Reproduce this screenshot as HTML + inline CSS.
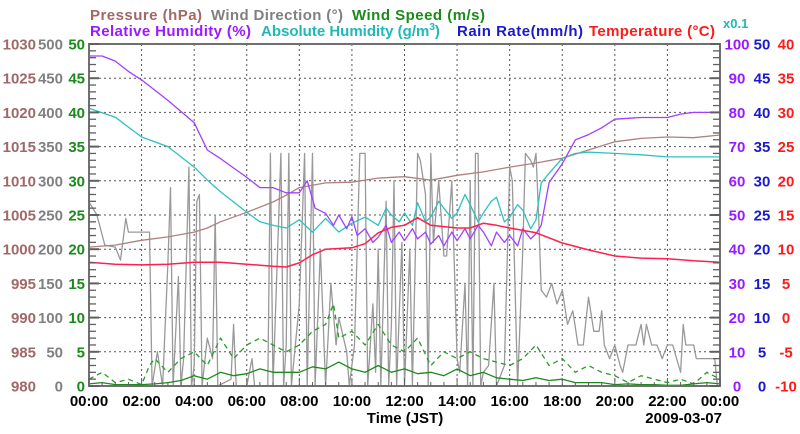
<!DOCTYPE html>
<html><head><meta charset="utf-8"><style>
html,body{margin:0;padding:0;background:#fff;}
svg{display:block;font-family:"Liberation Sans",Arial,sans-serif;font-weight:bold;}
</style></head><body>
<svg id="chart" width="800" height="434" viewBox="0 0 800 434" xmlns="http://www.w3.org/2000/svg">
<g font-size="15">
<text x="90" y="20" fill="#a06868" textLength="112">Pressure (hPa)</text>
<text x="211" y="20" fill="#808080" textLength="132">Wind Direction (°)</text>
<text x="352" y="20" fill="#1a8a1a" textLength="133">Wind Speed (m/s)</text>
<text x="90" y="36" fill="#9a1aff" textLength="161">Relative Humidity (%)</text>
<text x="261" y="36" fill="#20b8b8">Absolute Humidity (g/m<tspan dy="-6" font-size="10">3</tspan><tspan dy="6">)</tspan></text>
<text x="457" y="36" fill="#1a1acc" textLength="126">Rain Rate(mm/h)</text>
<text x="589" y="36" fill="#ff1a1a" textLength="126">Temperature (°C)</text>
<text x="723" y="28" fill="#20b8b8" font-size="13">x0.1</text>
</g>
<g id="grid"></g>
<g id="series"></g>
<g id="axes"></g>
<text x="405" y="423" text-anchor="middle" font-size="15" fill="#000">Time (JST)</text>
<text x="722" y="423" text-anchor="end" font-size="15" fill="#000">2009-03-07</text>
</svg>
<script>
const NS='http://www.w3.org/2000/svg';
// ---- data ----
const hourTicks=[0,2,4,6,8,10,12,14,16,18,20,22,24];
const hourLabels=['00:00','02:00','04:00','06:00','08:00','10:00','12:00','14:00','16:00','18:00','20:00','22:00','00:00'];
const pressureTicks=[980,985,990,995,1000,1005,1010,1015,1020,1025,1030];
const windDirTicks=[0,50,100,150,200,250,300,350,400,450,500];
const windSpeedTicks=[0,5,10,15,20,25,30,35,40,45,50];
const rhTicks=[0,10,20,30,40,50,60,70,80,90,100];
const rainTicks=[0,5,10,15,20,25,30,35,40,45,50];
const tempTicks=[-10,-5,0,5,10,15,20,25,30,35,40];

const pressureT=[0,1,2,3,4,4.5,5,6,7,7.5,8,9,10,11,12,13,14,15,16,17,18,19,20,21,22,23,24];
const pressureV=[1000.3,1000.6,1001.3,1001.8,1002.5,1003.1,1004,1005.4,1006.9,1007.9,1009,1009.7,1009.8,1010.4,1010.6,1010.1,1010.8,1011.3,1012,1012.6,1013.3,1014.5,1015.7,1016.2,1016.4,1016.3,1016.7];

const rhT=[0,0.5,1,1.5,2,3,4,4.5,5,6,6.5,7,7.5,8,8.3,8.6,9,9.3,9.5,9.8,10,10.2,10.5,10.8,11,11.3,11.5,11.8,12,12.3,12.5,12.8,13,13.3,13.5,13.8,14,14.3,14.5,14.8,15,15.3,15.5,15.8,16,16.3,16.5,16.8,17,17.2,17.5,18,18.5,19,19.5,20,21,22,22.5,23,24];
const rhV=[96.5,96.5,95,92,89.5,83.5,77,69,66.5,61,58,58,56.5,56.5,60,52,50.5,47,50,46,49.5,44,46,42,43.5,47,42,45,42.5,46,43,45,41.5,44,41,45,42.5,46,43,47,45,41,45,42,44,41,46,43,44.5,47,59.5,65,72,73.5,75.5,78,78.5,78.5,79.5,80,80];

const absT=[0,1,2,3,4,4.5,5,6,6.5,7,7.5,8,8.5,9,9.5,10,10.5,11,11.3,11.5,11.8,12,12.3,12.5,12.8,13,13.3,13.5,13.8,14,14.3,14.5,14.8,15,15.3,15.5,15.8,16,16.3,16.5,16.8,17,17.2,17.5,18,18.5,19,20,21,22,23,24];
const absV=[40.6,39.3,36.4,35,32,30.1,28.4,25.4,24,23.5,23.1,24.3,22.5,24.5,22.5,23.8,24.7,23.5,26,25,24,25.3,23.5,26.8,24,24.7,27,26,24.5,25.3,28,26.5,24,25.3,27,27.6,24,24.7,26.5,25.7,23,24.3,29.7,31.1,33.3,34,34.2,34,33.8,33.5,33.5,33.5];

const tempT=[0,1,2,3,4,5,6,7,7.5,8,8.5,9,10,10.5,11,11.5,12,12.5,13,14,14.5,15,15.5,16,17,18,19,20,21,22,23,24];
const tempV=[8.1,7.8,7.7,7.8,8.1,8.1,7.8,7.5,7.4,8,9.2,10,10.2,10.8,12.4,13.2,13.5,14.6,13.5,13.1,13.1,13.8,13.5,13.1,12.4,10.9,9.9,9,8.7,8.6,8.3,8.1];

const windDirT=[0,0.3,0.6,1,1.2,1.4,1.5,2,2.3,2.4,2.6,2.8,3,3.1,3.2,3.4,3.5,3.6,3.8,3.9,4,4.1,4.2,4.3,4.5,4.7,4.8,4.9,5.4,5.5,5.6,6,6.2,6.3,6.8,6.9,7,7.3,7.4,7.5,7.6,7.7,8,8.2,8.3,8.5,8.6,8.8,9,9.2,9.4,9.5,9.8,9.9,10.1,10.3,10.5,10.6,10.8,10.9,11,11.1,11.3,11.4,11.5,11.6,11.7,11.9,12,12.2,12.3,12.5,12.6,12.8,12.9,13,13.1,13.3,13.5,13.6,13.8,14,14.1,14.3,14.4,14.5,14.6,14.7,14.8,14.9,15,15.2,15.4,15.5,15.8,16,16.1,16.3,16.5,16.6,16.8,16.9,17,17.1,17.2,17.4,17.6,17.8,18,18.2,18.4,18.6,18.8,19,19.2,19.4,19.5,19.6,19.8,20,20.2,20.3,20.5,20.8,21,21.1,21.2,21.4,21.6,21.8,22,22.2,22.5,22.6,22.7,23,23.1,23.8,23.9,24];
const windDirV=[269,250,206,203,184,245,225,225,225,0,50,0,180,290,0,160,0,40,320,0,30,270,280,0,70,40,250,0,10,90,0,0,40,0,0,340,0,340,0,60,340,0,120,340,0,340,0,200,0,150,60,100,50,0,60,340,340,0,120,20,200,0,270,0,90,300,0,210,0,200,0,340,330,280,0,340,210,300,190,190,300,40,20,150,0,300,0,340,340,0,20,30,150,0,30,320,300,0,200,340,330,320,340,250,140,130,150,120,140,90,110,60,60,130,80,80,110,60,40,60,30,20,60,60,90,60,90,60,60,40,60,60,20,90,60,60,40,40,0,0];

const windT=[0,0.5,1,1.5,2,2.5,3,3.5,4,4.5,5,5.5,6,6.5,7,7.5,8,8.5,9,9.5,10,10.5,11,11.5,12,12.5,13,13.5,14,14.5,15,15.5,16,16.5,17,17.5,18,18.5,19,19.5,20,20.5,21,21.5,22,22.5,23,23.5,24];
const windMeanV=[0.3,0.5,0.2,0.2,0.2,0.3,0.5,0.8,1.5,1,2,1.5,1.8,2.5,2,2,2,2.8,2.5,3.5,2.5,2,3,2,2.5,1.8,2,1.5,2.5,1.5,2,1.2,1,0.8,1.2,0.8,1,0.5,0.5,0.5,0.2,0.3,0.2,0.2,0.1,0.1,0.3,0.5,0.3];
const gustT=[0,0.5,1,1.5,2,2.3,2.5,3,3.5,4,4.5,5,5.5,6,6.5,7,7.5,8,8.5,9,9.3,9.5,10,10.5,11,11.5,12,12.5,13,13.5,14,14.5,15,15.5,16,16.5,17,17.5,18,18.5,19,19.5,20,20.5,21,21.5,22,22.5,23,23.5,24];
const windGustV=[1,2,0.5,1,0.2,3,4,2,4,5,3,7,4,6,7,6,5,6,8,9,12,7,8,6,9,6,5,7,3,5,4,5,4,3.5,3,4,6,3,4,2,3,2,1.5,0.5,1.5,1,0.5,1,0.3,2,1];

const rainT=[0,24];
const rainV=[0,0];

// ---- layout ----
const X0=89,X1=720,Y0=44,Y1=386;
const xs=h=>X0+(X1-X0)*h/24;
const ys=(v,lo,hi)=>Y1-(Y1-Y0)*(v-lo)/(hi-lo);

function el(tag,attrs,parent){const e=document.createElementNS(NS,tag);for(const k in attrs)e.setAttribute(k,attrs[k]);parent.appendChild(e);return e;}
const grid=document.getElementById('grid'),series=document.getElementById('series'),axes=document.getElementById('axes');

for(let i=1;i<10;i++){const y=ys(i,0,10);
 const g=el('line',{x1:X0,x2:X1,y1:y,y2:y,stroke:'#555','stroke-width':1,'stroke-dasharray':'2,3'},grid);
 
 }
for(let i=1;i<hourTicks.length-1;i++){const x=xs(hourTicks[i]);
 const g=el('line',{x1:x,x2:x,y1:Y0,y2:Y1,stroke:'#555','stroke-width':1,'stroke-dasharray':'2,3'},grid);
 
 }

function line(T,V,lo,hi,color,name,extra){
 const d=T.map((t,i)=>(i?'L':'M')+xs(t).toFixed(1)+','+ys(V[i],lo,hi).toFixed(1)).join('');
 const p=el('path',Object.assign({d:d,fill:'none',stroke:color,'stroke-width':1.3,'stroke-linejoin':'round'},extra||{}),series);
 
 }
line(windDirT,windDirV,0,500,'#999','wind-direction-line');
line(gustT,windGustV,0,50,'#2a9a2a','wind-gust-line',{'stroke-dasharray':'5,4'});
line(windT,windMeanV,0,50,'#1a8a1a','wind-speed-line');
line(rainT,rainV,0,50,'#2020cc','rain-rate-line',{'stroke-width':2});
line(pressureT,pressureV,980,1030,'#b08080','pressure-line');
line(absT,absV,0,50,'#30c0c0','absolute-humidity-line');
line(rhT,rhV,0,100,'#a040ff','relative-humidity-line');
line(tempT,tempV,-10,40,'#ff2050','temperature-line',{'stroke-width':1.5});

const fr=el('rect',{x:X0,y:Y0,width:X1-X0,height:Y1-Y0,fill:'none',stroke:'#707070','stroke-width':2},axes);


for(let i=0;i<=50;i++){const y=Y1-(Y1-Y0)*i/50;const L=i%5==0?10:7;const w=i%5==0?2:1.3;
 el('line',{x1:X0,x2:X0+L,y1:y,y2:y,stroke:'#606060','stroke-width':w},axes);
 el('line',{x1:X1,x2:X1-L,y1:y,y2:y,stroke:'#606060','stroke-width':w},axes);}
for(let i=0;i<=48;i++){const x=xs(i/2);el('line',{x1:x,x2:x,y1:Y1,y2:Y1-(i%4==0?8:4),stroke:'#606060','stroke-width':1},axes);}

function labels(ticks,lo,hi,x,anchor,color,name){
 ticks.forEach(v=>{const t=el('text',{x:x,y:ys(v,lo,hi)+5.5,'text-anchor':anchor,fill:color,'font-size':15},axes);
 t.textContent=v;
 
 });}
labels(pressureTicks,980,1030,36,'end','#a06868','pressure-tick-label');
labels(windDirTicks,0,500,63,'end','#808080','wind-direction-tick-label');
labels(windSpeedTicks,0,50,85,'end','#1a8a1a','wind-speed-tick-label');
labels(rhTicks,0,100,737,'middle','#9a1aff','humidity-tick-label');
labels(rainTicks,0,50,762,'middle','#1a1acc','rain-tick-label');
labels(tempTicks,-10,40,786,'middle','#ff1a1a','temperature-tick-label');
hourTicks.forEach((h,i)=>{const t=el('text',{x:xs(h),y:406,'text-anchor':'middle',fill:'#000','font-size':15},axes);
 t.textContent=hourLabels[i];
 
 });
</script>
</body></html>
